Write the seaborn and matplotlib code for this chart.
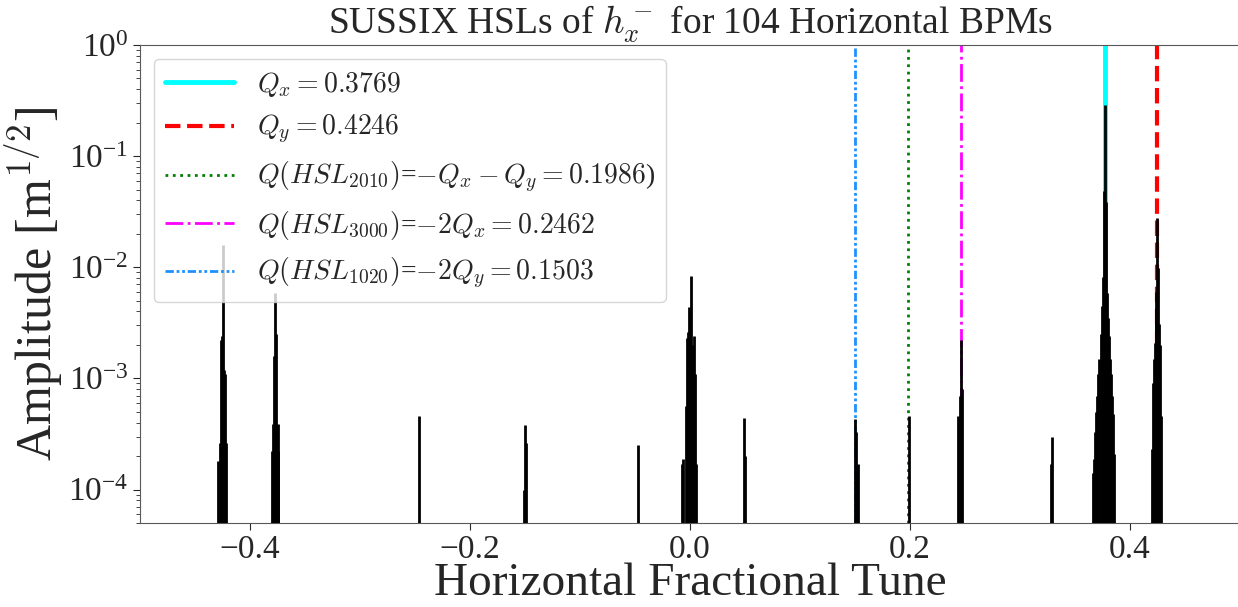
import numpy as np
import matplotlib
matplotlib.use("Agg")
import matplotlib.pyplot as plt
import seaborn as sns

# tune / amplitude of the SUSSIX lines, grouped by peak
neg_qy_tune = [-0.4290, -0.4275, -0.4262, -0.4253, -0.4246, -0.4238, -0.4230, -0.4220]
neg_qy_amp = [1.8e-4, 2.6e-4, 2.2e-3, 2.4e-3, 1.6e-2, 1.2e-3, 1.1e-3, 2.6e-4]

neg_qx_tune = [-0.3800, -0.3790, -0.3780, -0.3769, -0.3760, -0.3750, -0.3742]
neg_qx_amp = [2.2e-4, 3.9e-4, 1.6e-3, 5.9e-3, 2.5e-3, 3.9e-4, 2.2e-4]

neg_2qx_tune = [-0.2464]
neg_2qx_amp = [4.6e-4]

neg_2qy_tune = [-0.1506, -0.1497, -0.1492]
neg_2qy_amp = [1.0e-4, 3.8e-4, 2.6e-4]

diff_tune = [-0.0475, 0.0488, 0.0497]
diff_amp = [2.5e-4, 4.4e-4, 2.0e-4]

zero_tune = [-0.0076, -0.0066, -0.0034, -0.0025, -0.0017, -0.0009, 0.0000, 0.0009,
             0.0020, 0.0034, 0.0043, 0.0052]
zero_amp = [1.7e-4, 1.9e-4, 5.7e-4, 2.3e-3, 2.6e-3, 4.4e-3, 3.5e-3, 8.3e-3,
            2.0e-3, 2.4e-3, 1.1e-3, 1.7e-4]

hsl1020_tune = [0.1503, 0.1512, 0.1530]
hsl1020_amp = [4.3e-4, 3.3e-4, 1.7e-4]

hsl2010_tune = [0.1988]
hsl2010_amp = [4.6e-4]

hsl3000_tune = [0.2440, 0.2450, 0.2462, 0.2472]
hsl3000_amp = [4.6e-4, 7.0e-4, 2.2e-3, 8.1e-4]

other_tune = [0.3282, 0.3294]
other_amp = [1.7e-4, 3.0e-4]

qx_tune = [0.3662, 0.3672, 0.3682, 0.3692, 0.3702, 0.3712, 0.3722, 0.3732, 0.3742,
           0.3752, 0.3760, 0.3769, 0.3778, 0.3788, 0.3798, 0.3808, 0.3818, 0.3828,
           0.3838, 0.3848, 0.3858]
qx_amp = [1.4e-4, 1.9e-4, 3.3e-4, 5.0e-4, 7.0e-4, 1.1e-3, 1.5e-3, 2.5e-3, 4.5e-3,
          8.1e-3, 4.9e-2, 2.9e-1, 3.9e-2, 5.9e-3, 3.5e-3, 2.4e-3, 1.5e-3, 1.1e-3,
          7.0e-4, 4.8e-4, 2.1e-4]

qy_tune = [0.4200, 0.4208, 0.4216, 0.4224, 0.4232, 0.4240, 0.4246, 0.4254, 0.4262,
           0.4270, 0.4280]
qy_amp = [2.3e-4, 9.0e-4, 1.5e-3, 2.1e-3, 4.3e-3, 6.0e-3, 2.8e-2, 9.8e-3, 3.1e-3,
          2.0e-3, 4.6e-4]

# reference lines
ref_tunes = [0.3769, 0.4246, 0.1986, 0.2462, 0.1503]
ref_labels = [r'$Q_x = 0.3769$',
              r'$Q_y = 0.4246$',
              r'$Q(HSL_{2010})$=$-Q_x - Q_y = 0.1986$)',
              r'$Q(HSL_{3000})$=$-2Q_x = 0.2462$',
              r'$Q(HSL_{1020})$=$-2Q_y = 0.1503$']
ref_colors = ['cyan', 'red', 'green', 'magenta', 'dodgerblue']
ref_styles = ['-', '--', ':', '-.', (0, (3, 1, 1, 1, 1, 1))]
ref_widths = [3.5, 3, 2, 2, 2]

tunes = np.concatenate([neg_qy_tune, neg_qx_tune, neg_2qx_tune, neg_2qy_tune, diff_tune,
                        zero_tune, hsl1020_tune, hsl2010_tune, hsl3000_tune, other_tune,
                        qx_tune, qy_tune])
amps = np.concatenate([neg_qy_amp, neg_qx_amp, neg_2qx_amp, neg_2qy_amp, diff_amp,
                       zero_amp, hsl1020_amp, hsl2010_amp, hsl3000_amp, other_amp,
                       qx_amp, qy_amp])

sns.set_style("ticks")
plt.rcParams['font.family'] = ['Liberation Serif', 'DejaVu Serif']
plt.rcParams['mathtext.fontset'] = 'cm'
plt.rcParams['axes.edgecolor'] = '0.35'

fig = plt.figure(figsize=(12.38, 6.07), dpi=100)
ax = fig.add_axes([140 / 1238, 1 - 523 / 607, 1100 / 1238, 478 / 607])

ymin = 5e-5
for t, lab, c, ls, lw in zip(ref_tunes, ref_labels, ref_colors, ref_styles, ref_widths):
    ax.axvline(t, color=c, linestyle=ls, linewidth=lw, label=lab, zorder=2)

ax.vlines(tunes, ymin, amps, color='black', linewidth=2.0, zorder=3)

ax.set_yscale('log')
ax.set_xlim(-0.5, 0.5)
ax.set_ylim(ymin, 1)
ax.set_title(r'SUSSIX HSLs of $h_x^-$ for 104 Horizontal BPMs', fontsize=27, pad=6)
ax.set_xlabel('Horizontal Fractional Tune', fontsize=34, labelpad=-2)
ax.set_ylabel(r'Amplitude [m$^{1/2}$]', fontsize=36, labelpad=2)
ax.tick_params(axis='both', which='major', labelsize=24, length=5)
ax.tick_params(axis='y', which='minor', length=3)
ax.legend(loc='upper left', fontsize=20, handlelength=2.5)

fig.savefig('out.png', dpi=100)
